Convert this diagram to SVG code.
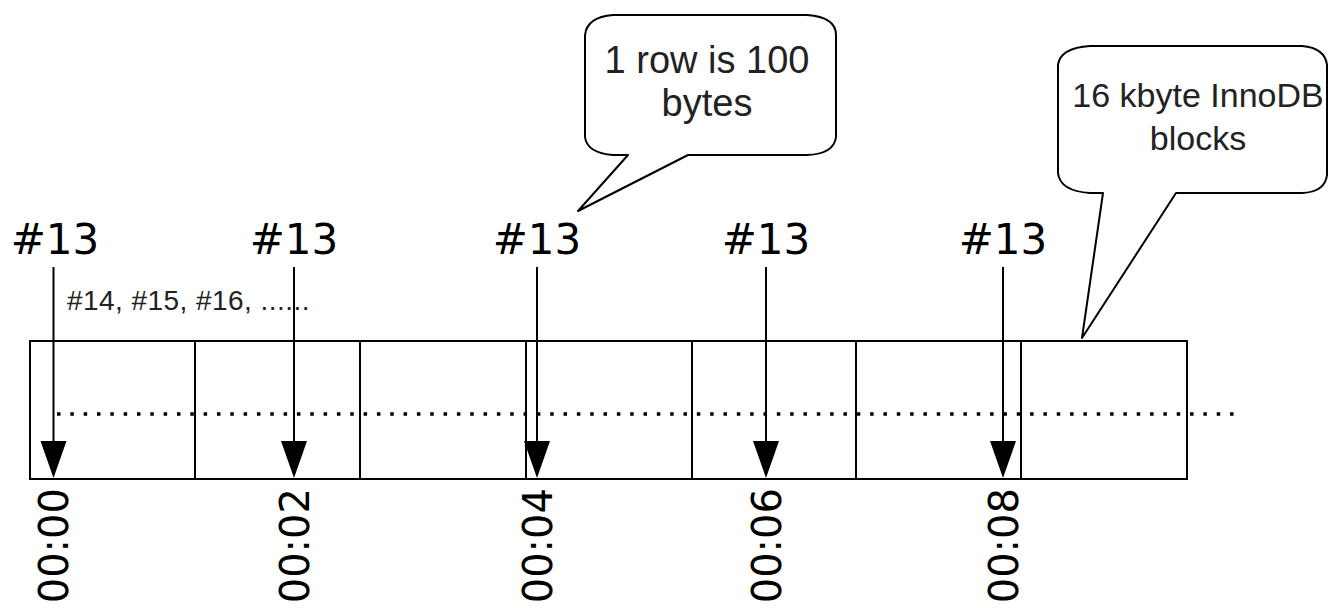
<svg xmlns="http://www.w3.org/2000/svg" width="1328" height="608" viewBox="0 0 1328 608">
<style>
.box{fill:none;stroke:#000;stroke-width:2}
.call{fill:#fff;stroke:#000;stroke-width:2;stroke-linejoin:round}
.arr{stroke:#000;stroke-width:2;fill:none}
.big{font-family:"DejaVu Sans",sans-serif;font-size:42px;fill:#000}
.time{font-family:"DejaVu Sans",sans-serif;font-size:40px;fill:#000}
.sm{font-family:"Liberation Sans",Arial,sans-serif;fill:#222}
</style>
<rect width="1328" height="608" fill="#fff"/>
<g id="blocks">
<rect class="box" x="30" y="341" width="1157" height="138"/>
<path class="box" d="M195,341V479M360,341V479M526,341V479M692,341V479M856,341V479M1021,341V479"/>
<line x1="57" y1="414" x2="1239" y2="414" stroke="#000" stroke-width="3.5" stroke-dasharray="3.5 9.83"/>
</g>
<g id="connectors">
<line class="arr" x1="53.5" y1="267" x2="53.5" y2="441"/>
<line class="arr" x1="294" y1="267" x2="294" y2="441"/>
<line class="arr" x1="537" y1="267" x2="537" y2="441"/>
<line class="arr" x1="766" y1="267" x2="766" y2="441"/>
<line class="arr" x1="1003" y1="267" x2="1003" y2="441"/>
<path d="M40.5,441H66.5L53.5,478Z M281,441H307L294,478Z M524,441H550L537,478Z M753,441H779L766,478Z M990,441H1016L1003,478Z" fill="#000"/>
</g>
<g id="labels-top">
<text class="big" x="55" y="254" text-anchor="middle">#13</text>
<text class="big" x="294" y="254" text-anchor="middle">#13</text>
<text class="big" x="537" y="254" text-anchor="middle">#13</text>
<text class="big" x="766" y="254" text-anchor="middle">#13</text>
<text class="big" x="1003" y="254" text-anchor="middle">#13</text>
<text class="sm" x="67" y="310" font-size="28" letter-spacing="0.45">#14, #15, #16, ......</text>
</g>
<g id="labels-time">
<text class="time" transform="translate(68,488) rotate(-90)" text-anchor="end">00:00</text>
<text class="time" transform="translate(308.5,488) rotate(-90)" text-anchor="end">00:02</text>
<text class="time" transform="translate(551.5,488) rotate(-90)" text-anchor="end">00:04</text>
<text class="time" transform="translate(780.5,488) rotate(-90)" text-anchor="end">00:06</text>
<text class="time" transform="translate(1017.5,488) rotate(-90)" text-anchor="end">00:08</text>
</g>
<g id="callout-row">
<path class="call" d="M613,15 H807 Q836,17 836,35 V137 Q834,154 807,155 H688 L578,211 L628,155 H613 Q587,153 585,137 V35 Q587,17 613,15 Z"/>
<text class="sm" font-size="38" x="707" y="73" text-anchor="middle">1 row is 100</text>
<text class="sm" font-size="38" x="707" y="116" text-anchor="middle">bytes</text>
</g>
<g id="callout-block">
<path class="call" d="M1090,46 H1302 Q1325,48 1327,65 V175 Q1325,192 1302,193 H1176 L1082,338 L1103,193 H1090 Q1060,191 1058,173 V65 Q1060,48 1090,46 Z"/>
<text class="sm" font-size="34" x="1198" y="107" text-anchor="middle">16 kbyte InnoDB</text>
<text class="sm" font-size="34" x="1198" y="150" text-anchor="middle">blocks</text>
</g>
</svg>
